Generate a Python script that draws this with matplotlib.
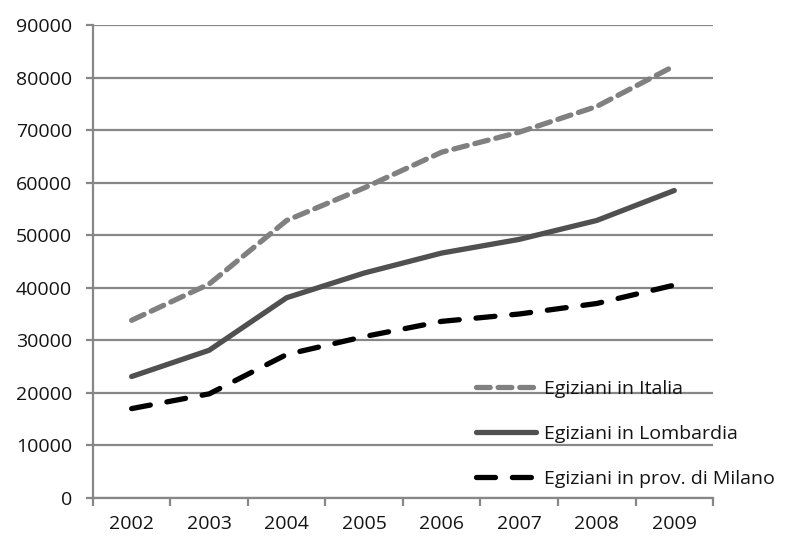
import matplotlib
matplotlib.use("Agg")
import matplotlib.pyplot as plt
import numpy as np

plt.rcParams['font.family'] = ['Open Sans', 'DejaVu Sans']

anni = ['2002', '2003', '2004', '2005', '2006', '2007', '2008', '2009']
italia = [33800, 40700, 52800, 59000, 65800, 69600, 74500, 82200]
lombardia = [23100, 28100, 38100, 42800, 46600, 49200, 52800, 58500]
milano = [17000, 19800, 27300, 30700, 33600, 35000, 37000, 40500]

GRID = '#878787'
TEXT = '#141414'
FS = 14

fig = plt.figure(figsize=(7.87, 5.43), dpi=100)
ax = fig.add_axes([0.118, 0.083, 0.788, 0.871])

x = np.arange(len(anni))
ax.plot(x, italia, color='#808080', lw=3.8, dashes=(2.6, 1.5),
        dash_capstyle='round', solid_joinstyle='round', label='Egiziani in Italia')
ax.plot(x, lombardia, color='#505050', lw=3.8, solid_capstyle='round',
        solid_joinstyle='round', label='Egiziani in Lombardia')
ax.plot(x, milano, color='black', lw=3.8, dashes=(3.6, 3.2),
        dash_capstyle='round', solid_joinstyle='round', label='Egiziani in prov. di Milano')

ax.set_xlim(-0.5, len(anni) - 0.5)
ax.set_ylim(0, 90000)
ax.set_yticks(np.arange(0, 90001, 10000))
ax.yaxis.grid(True, color=GRID, lw=1.6)
ax.set_axisbelow(True)

# anni al centro delle categorie, tacche sui bordi
ax.set_xticks(x)
ax.set_xticklabels(anni)
ax.set_xticks(np.arange(-0.5, len(anni)), minor=True)
ax.tick_params(axis='x', which='major', length=0, pad=12, labelsize=FS, labelcolor=TEXT)
ax.tick_params(axis='x', which='minor', length=6, width=1.6, color=GRID)
ax.tick_params(axis='y', length=5, width=1.6, color=GRID, pad=10, labelsize=FS, labelcolor=TEXT)

for side in ['top', 'right']:
    ax.spines[side].set_visible(False)
for side in ['left', 'bottom']:
    ax.spines[side].set_color(GRID)
    ax.spines[side].set_linewidth(1.6)

leg = ax.legend(loc='lower left', bbox_to_anchor=(0.618, 0.022), frameon=False,
                fontsize=FS, handlelength=3.1, handletextpad=0.4, labelspacing=1.38,
                borderaxespad=0, borderpad=0)
for t in leg.get_texts():
    t.set_color(TEXT)

fig.savefig('out.png', dpi=100)
